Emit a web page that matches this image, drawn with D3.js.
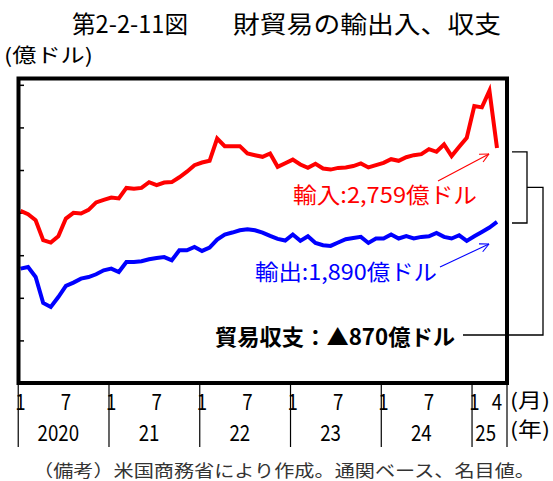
<!DOCTYPE html>
<html>
<head>
<meta charset="utf-8">
<script src="https://cdn.jsdelivr.net/npm/d3@7"></script>
<style>
  body { margin: 0; background: #fff; }
  text { font-family: "Noto Sans CJK JP", "Noto Sans", sans-serif; }
</style>
</head>
<body>
<script>
// monthly goods trade, 億ドル, Jan 2020 - Apr 2025
var years = ["2020", "21", "22", "23", "24", "25"];
var monthsInYear = [12, 12, 12, 12, 12, 4];
var monthTicks = [1, 7, 4];

var imports = [
  2020, 1981, 1911, 1676, 1648, 1723, 1930, 1997, 1989, 2032, 2120, 2150,
  2177, 2166, 2290, 2279, 2290, 2357, 2322, 2353, 2358, 2415, 2480, 2557,
  2588, 2608, 2870, 2780, 2780, 2780, 2694, 2674, 2655, 2694, 2537, 2580,
  2622, 2565, 2525, 2573, 2518, 2505, 2525, 2530, 2546, 2577, 2530, 2557,
  2584, 2627, 2608, 2650, 2674, 2686, 2745, 2714, 2800, 2663, 2772, 2878,
  3250, 3235, 3430, 2759
];
var exports = [
  1343, 1362, 1244, 939, 892, 1009, 1139, 1178, 1225, 1244, 1276, 1323,
  1343, 1303, 1421, 1421, 1429, 1452, 1468, 1478, 1440, 1558, 1558, 1597,
  1550, 1589, 1684, 1743, 1766, 1793, 1805, 1792, 1766, 1727, 1692, 1672,
  1743, 1668, 1723, 1644, 1617, 1609, 1649, 1688, 1703, 1715, 1644, 1696,
  1696, 1743, 1696, 1723, 1696, 1715, 1723, 1762, 1715, 1696, 1734, 1668,
  1723, 1773, 1825, 1890
];

var title1 = "第2-2-11図",
    title2 = "財貿易の輸出入、収支",
    unitLabel = "(億ドル)",
    importLabel = "輸入:2,759億ドル",
    exportLabel = "輸出:1,890億ドル",
    balanceLabel = "貿易収支：▲870億ドル",
    note = "（備考）米国商務省により作成。通関ベース、名目値。";

var width = 553,
    height = 481;

var svg = d3.select("body")
    .append("svg")
    .attr("width", width)
    .attr("height", height);

var x = d3.scaleLinear()
    .domain([0, imports.length - 1])
    .range([20.5, 497]);

var y = d3.scaleLinear()
    .domain([0, 3580])
    .range([383, 78]);

//text helper, fitted to a width or squeezed sideways
function label(str, px, py, size, opts){
    opts = opts || {};
    var t = svg.append("text")
        .attr("font-size", size)
        .attr("fill", opts.fill || "#000")
        .attr("font-weight", opts.weight || "normal")
        .attr("text-anchor", opts.anchor || "start")
        .text(str);
    if (opts.sx) {
        t.attr("transform", "translate(" + px + "," + py + ") scale(" + opts.sx + ",1)");
    } else {
        t.attr("x", px).attr("y", py);
    }
    if (opts.len) {
        t.attr("textLength", opts.len).attr("lengthAdjust", "spacingAndGlyphs");
    }
    return t;
}

//titles
label(title1, 72, 33, 24, {len: 116});
label(title2, 233, 33, 24, {len: 268});
label(unitLabel, 4, 63, 20, {len: 89});

//y ticks, inside the frame
var yAxis = d3.axisLeft(y)
    .tickValues(d3.range(500, 3501, 500))
    .tickSizeInner(-5)
    .tickSizeOuter(0)
    .tickFormat("");

svg.append("g")
    .attr("transform", "translate(19,0)")
    .call(yAxis)
    .call(function(g){ g.select(".domain").remove(); })
    .selectAll("line")
    .attr("stroke", "#000")
    .attr("stroke-width", 1.5);

//lines
var line = d3.line()
    .x(function(d, i){ return x(i); })
    .y(function(d){ return y(d); });

svg.append("path")
    .datum(imports)
    .attr("fill", "none")
    .attr("stroke", "#ff0000")
    .attr("stroke-width", 4)
    .attr("d", line);

svg.append("path")
    .datum(exports)
    .attr("fill", "none")
    .attr("stroke", "#0000ff")
    .attr("stroke-width", 4)
    .attr("d", line);

//frame
svg.append("rect")
    .attr("x", 18.5)
    .attr("y", 78.5)
    .attr("width", 488.5)
    .attr("height", 304.5)
    .attr("fill", "none")
    .attr("stroke", "#000")
    .attr("stroke-width", 4);

//x axis: year separators, month and year labels
var start = 0;
var axisFont = 22, squeeze = 0.85;
years.forEach(function(yr, k){
    var n = monthsInYear[k];
    var sx = x(start - 0.3);
    svg.append("line")
        .attr("x1", sx).attr("x2", sx)
        .attr("y1", 383).attr("y2", 447)
        .attr("stroke", "#000")
        .attr("stroke-width", 1.2);
    label(String(monthTicks[0]), x(start), 410, axisFont, {anchor: "middle", sx: squeeze});
    if (n >= 7) {
        label(String(monthTicks[1]), x(start + 6), 410, axisFont, {anchor: "middle", sx: squeeze});
        label(yr, x(start + 5), 441, axisFont, {anchor: "middle", sx: squeeze});
    } else {
        label(String(monthTicks[2]), x(start + n - 1), 410, axisFont, {anchor: "middle", sx: squeeze});
        label(yr, x(start + (n - 1) / 2), 441, axisFont, {anchor: "middle", sx: squeeze});
    }
    start += n;
});
svg.append("line")
    .attr("x1", 507).attr("x2", 507)
    .attr("y1", 383).attr("y2", 447)
    .attr("stroke", "#000")
    .attr("stroke-width", 1.2);
label("(月)", 510, 408, 20, {len: 40});
label("(年)", 510, 437, 20, {len: 40});

//annotations
function arrow(x1, y1, x2, y2, color){
    svg.append("line")
        .attr("x1", x1).attr("y1", y1)
        .attr("x2", x2).attr("y2", y2)
        .attr("stroke", color)
        .attr("stroke-width", 1.1);
    var a = Math.atan2(y2 - y1, x2 - x1);
    [0.45, -0.45].forEach(function(da){
        svg.append("line")
            .attr("x1", x2).attr("y1", y2)
            .attr("x2", x2 - 10 * Math.cos(a + da))
            .attr("y2", y2 - 10 * Math.sin(a + da))
            .attr("stroke", color)
            .attr("stroke-width", 1.1);
    });
}

var last = imports.length - 1;
label(importLabel, 293, 203, 22, {fill: "#ff0000", len: 184});
arrow(438, 181, x(last) - 8, y(imports[last]) + 6, "#ff0000");

label(exportLabel, 255, 280, 22, {fill: "#0000ff", len: 182});
arrow(440, 267, x(last) - 8, y(exports[last]) + 22, "#0000ff");

label(balanceLabel, 215, 345, 22, {weight: "bold", len: 240});

//bracket to the balance label
var bTop = y(imports[last]) + 4,
    bBot = y(exports[last]) + 1,
    bMid = (bTop + bBot) / 2;
var bracket = d3.path();
bracket.moveTo(512, bTop);
bracket.lineTo(527, bTop);
bracket.lineTo(527, bBot);
bracket.lineTo(512, bBot);
bracket.moveTo(527, bMid);
bracket.lineTo(543, bMid);
bracket.lineTo(543, 335);
bracket.lineTo(463, 335);
svg.append("path")
    .attr("d", bracket.toString())
    .attr("fill", "none")
    .attr("stroke", "#000")
    .attr("stroke-width", 1.3);

//source note
label(note, 33, 477, 17, {fill: "#333", len: 502});
</script>
</body>
</html>
